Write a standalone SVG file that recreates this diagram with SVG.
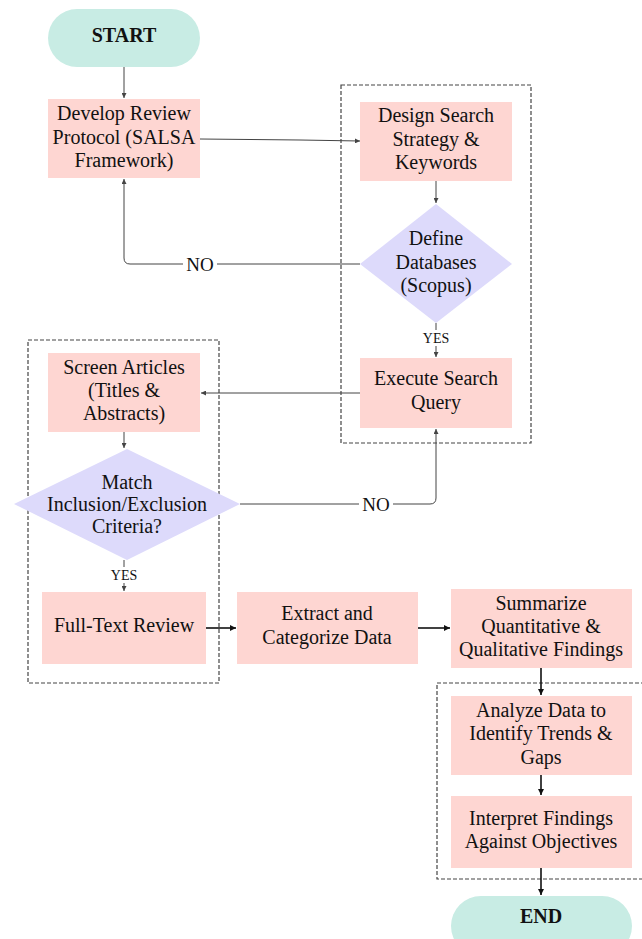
<svg xmlns="http://www.w3.org/2000/svg" width="642" height="939" viewBox="0 0 642 939">
<style>
.box{fill:#FED6D2}
.dia{fill:#DDDAFB}
.term{fill:#C8ECE4}
.grp{fill:none;stroke:#444;stroke-width:1.2;stroke-dasharray:4 2}
text{font-family:'Liberation Serif',serif !important;font-size:20px;fill:#111;text-anchor:middle}
.b{font-weight:bold}
.lbl{font-size:19px}
.sm{font-size:14px}
.c{fill:none;stroke:#444;stroke-width:1}
.t{fill:none;stroke:#111;stroke-width:1.6}
</style>
<defs>
<marker id="a" viewBox="0 0 6 6" refX="6" refY="3" markerWidth="5" markerHeight="5" orient="auto" markerUnits="userSpaceOnUse">
<path d="M0,0 L6,3 L0,6 z" fill="#444"/>
</marker>
<marker id="at" viewBox="0 0 6 6" refX="6" refY="3" markerWidth="6" markerHeight="6" orient="auto" markerUnits="userSpaceOnUse">
<path d="M0,0 L6,3 L0,6 z" fill="#111"/>
</marker>
</defs>

<g id="groups">
<rect class="grp" x="341" y="85" width="190" height="358"/>
<rect class="grp" x="28" y="340" width="191" height="343"/>
<rect class="grp" x="437" y="683" width="215" height="196"/>
</g>

<g id="start"><rect class="term" x="48" y="9" width="152" height="58" rx="29"/><text font-family="Liberation Serif" class="b" x="124" y="42">START</text></g>
<g id="develop"><rect class="box" x="48" y="99" width="152" height="79"/>
<text font-family="Liberation Serif" x="124" y="120">Develop Review</text><text font-family="Liberation Serif" x="124" y="144">Protocol (SALSA</text><text font-family="Liberation Serif" x="124" y="167">Framework)</text></g>
<g id="design"><rect class="box" x="360" y="102" width="152" height="79"/>
<text font-family="Liberation Serif" x="436" y="122">Design Search</text><text font-family="Liberation Serif" x="436" y="146">Strategy &amp;</text><text font-family="Liberation Serif" x="436" y="169">Keywords</text></g>
<g id="define"><polygon class="dia" points="436,204 512,264 436,323 360,264"/>
<text font-family="Liberation Serif" x="436" y="245">Define</text><text font-family="Liberation Serif" x="436" y="269">Databases</text><text font-family="Liberation Serif" x="436" y="292">(Scopus)</text></g>
<g id="execute"><rect class="box" x="360" y="358" width="152" height="70"/>
<text font-family="Liberation Serif" x="436" y="385">Execute Search</text><text font-family="Liberation Serif" x="436" y="409">Query</text></g>
<g id="screen"><rect class="box" x="48" y="353" width="152" height="79"/>
<text font-family="Liberation Serif" x="124" y="374">Screen Articles</text><text font-family="Liberation Serif" x="124" y="397">(Titles &amp;</text><text font-family="Liberation Serif" x="124" y="420">Abstracts)</text></g>
<g id="match"><polygon class="dia" points="127,449 240,504 127,560 14,504"/>
<text font-family="Liberation Serif" x="127" y="489">Match</text><text font-family="Liberation Serif" x="127" y="511">Inclusion/Exclusion</text><text font-family="Liberation Serif" x="127" y="533">Criteria?</text></g>
<g id="fulltext"><rect class="box" x="42" y="592" width="164" height="72"/>
<text font-family="Liberation Serif" x="124" y="632">Full-Text Review</text></g>
<g id="extract"><rect class="box" x="237" y="592" width="181" height="72"/>
<text font-family="Liberation Serif" x="327" y="620">Extract and</text><text font-family="Liberation Serif" x="327" y="644">Categorize Data</text></g>
<g id="summarize"><rect class="box" x="451" y="589" width="181" height="79"/>
<text font-family="Liberation Serif" x="541" y="610">Summarize</text><text font-family="Liberation Serif" x="541" y="633">Quantitative &amp;</text><text font-family="Liberation Serif" x="541" y="656">Qualitative Findings</text></g>
<g id="analyze"><rect class="box" x="451" y="696" width="181" height="79"/>
<text font-family="Liberation Serif" x="541" y="717">Analyze Data to</text><text font-family="Liberation Serif" x="541" y="740">Identify Trends &amp;</text><text font-family="Liberation Serif" x="541" y="764">Gaps</text></g>
<g id="interpret"><rect class="box" x="451" y="796" width="181" height="72"/>
<text font-family="Liberation Serif" x="541" y="825">Interpret Findings</text><text font-family="Liberation Serif" x="541" y="848">Against Objectives</text></g>
<g id="end"><rect class="term" x="451" y="896" width="181" height="60" rx="30"/><text font-family="Liberation Serif" class="b" x="541" y="923">END</text></g>

<g id="connectors">
<path class="c" d="M124,67 L124,98" marker-end="url(#a)"/>
<path class="c" d="M200,139 L300,140 L360,141" marker-end="url(#a)"/>
<path class="c" d="M436,181 L436,203" marker-end="url(#a)"/>
<path class="c" d="M360,264 L130,264 Q124,264 124,258 L124,179" marker-end="url(#a)"/>
<path class="c" d="M436,323 L436,357" marker-end="url(#a)"/>
<path class="c" d="M360,393 L201,393" marker-end="url(#a)"/>
<path class="c" d="M124,432 L124,448" marker-end="url(#a)"/>
<path class="c" d="M240,504 L430,504 Q436,504 436,498 L436,429" marker-end="url(#a)"/>
<path class="c" d="M124,560 L124,591" marker-end="url(#a)"/>
<path class="t" d="M206,628 L236,628" marker-end="url(#at)"/>
<path class="t" d="M418,628 L450,628" marker-end="url(#at)"/>
<path class="t" d="M541,668 L541,695" marker-end="url(#at)"/>
<path class="t" d="M541,775 L541,795" marker-end="url(#at)"/>
<path class="t" d="M541,868 L541,895" marker-end="url(#at)"/>
<rect x="183" y="254" width="34" height="20" fill="#fff"/>
<text font-family="Liberation Serif" class="lbl" x="200" y="271">NO</text>
<rect x="359" y="494" width="34" height="20" fill="#fff"/>
<text font-family="Liberation Serif" class="lbl" x="376" y="511">NO</text>
<rect x="420" y="330" width="32" height="16" fill="#fff"/>
<text font-family="Liberation Serif" class="sm" x="436" y="343">YES</text>
<rect x="107" y="567" width="34" height="16" fill="#fff"/>
<text font-family="Liberation Serif" class="sm" x="124" y="580">YES</text>
</g>
</svg>
